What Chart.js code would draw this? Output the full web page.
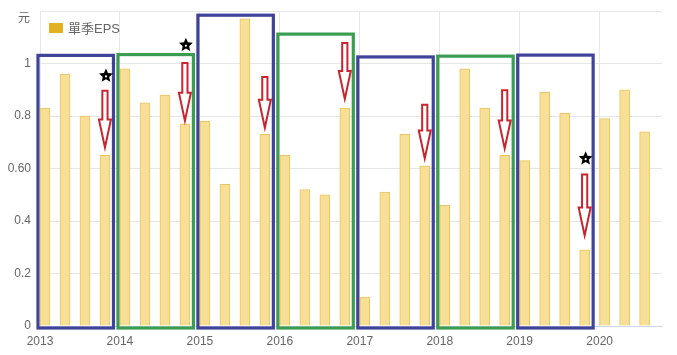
<!DOCTYPE html>
<html>
<head>
<meta charset="utf-8">
<script src="https://cdn.jsdelivr.net/npm/chart.js@4/dist/chart.umd.min.js"></script>
<style>
html,body{margin:0;padding:0;background:#fff;}
#c{display:block;}
</style>
</head>
<body>
<canvas id="c" width="677" height="355"></canvas>
<script>
// ---- data ----
const quarters = [
  '2013Q1','2013Q2','2013Q3','2013Q4',
  '2014Q1','2014Q2','2014Q3','2014Q4',
  '2015Q1','2015Q2','2015Q3','2015Q4',
  '2016Q1','2016Q2','2016Q3','2016Q4',
  '2017Q1','2017Q2','2017Q3','2017Q4',
  '2018Q1','2018Q2','2018Q3','2018Q4',
  '2019Q1','2019Q2','2019Q3','2019Q4',
  '2020Q1','2020Q2','2020Q3'
];
const eps = [
  0.83, 0.96, 0.80, 0.65,
  0.98, 0.85, 0.88, 0.77,
  0.78, 0.54, 1.17, 0.73,
  0.65, 0.52, 0.50, 0.83,
  0.11, 0.51, 0.73, 0.61,
  0.46, 0.98, 0.83, 0.65,
  0.63, 0.89, 0.81, 0.29,
  0.79, 0.90, 0.74
];
const seriesName = '單季EPS';
const unitLabel = '元';
const yearTicks = [2013, 2014, 2015, 2016, 2017, 2018, 2019, 2020];
const yTickLabels = ['0', '0.2', '0.4', '0.60', '0.8', '1', ''];

// annotation data (value units)
const boxYears  = [2013, 2014, 2015, 2016, 2017, 2018, 2019];
const boxTops   = [1.031, 1.034, 1.184, 1.112, 1.025, 1.028, 1.032];
const arrowTops = [0.896, 1.002, 0.949, 1.078, 0.843, 0.898, 0.577];
const arrowTips = [0.680, 0.782, 0.755, 0.865, 0.638, 0.676, 0.345];
const starYears  = [2013, 2014, 2019];
const starLevels = [0.953, 1.070, 0.638];

// ---- helpers ----
const BAR_SHIFT = 1 / 16;
function quarterPos(label) {
  const y = +label.slice(0, 4), q = +label.slice(5);
  return y + (q - 1) / 4;
}

const annot = {
  id: 'annot',
  afterDatasetsDraw(chart) {
    const ctx = chart.ctx, xs = chart.scales.x, ys = chart.scales.y;
    ctx.save();
    // boxes
    boxYears.forEach((yr, i) => {
      const l = xs.getPixelForValue(yr) - 2;
      const r = xs.getPixelForValue(yr + 1) - 6.5;
      const t = ys.getPixelForValue(boxTops[i]);
      const b = ys.getPixelForValue(0) + 2;
      ctx.strokeStyle = i % 2 === 0 ? '#3f4399' : '#3a9d52';
      ctx.lineWidth = 3.2;
      ctx.strokeRect(l, t, r - l, b - t);
    });
    // arrows
    boxYears.forEach((yr, i) => {
      const cx = xs.getPixelForValue(yr + 0.75 + BAR_SHIFT);
      const top = ys.getPixelForValue(arrowTops[i]);
      const tip = ys.getPixelForValue(arrowTips[i]);
      const hl = 28, sw = 2.6, hw = 6;
      ctx.beginPath();
      ctx.moveTo(cx - sw, top);
      ctx.lineTo(cx + sw, top);
      ctx.lineTo(cx + sw, tip - hl);
      ctx.lineTo(cx + hw, tip - hl);
      ctx.lineTo(cx, tip);
      ctx.lineTo(cx - hw, tip - hl);
      ctx.lineTo(cx - sw, tip - hl);
      ctx.closePath();
      ctx.fillStyle = '#ffffff';
      ctx.fill();
      ctx.strokeStyle = '#c9252f';
      ctx.lineWidth = 2;
      ctx.lineJoin = 'miter';
      ctx.stroke();
    });
    // stars
    starYears.forEach((yr, i) => {
      const cx = xs.getPixelForValue(yr + 0.75 + BAR_SHIFT) + 1;
      const cy = ys.getPixelForValue(starLevels[i]);
      const R = 7.3, r = 3.4;
      ctx.beginPath();
      for (let k = 0; k < 10; k++) {
        const a = -Math.PI / 2 + k * Math.PI / 5;
        const rad = k % 2 === 0 ? R : r;
        const px = cx + rad * Math.cos(a), py = cy + rad * Math.sin(a);
        if (k === 0) ctx.moveTo(px, py); else ctx.lineTo(px, py);
      }
      ctx.closePath();
      ctx.fillStyle = '#000';
      ctx.fill();
      ctx.beginPath();
      ctx.arc(cx, cy + 0.6, 1.1, 0, Math.PI * 2);
      ctx.fillStyle = '#fff';
      ctx.fill();
    });
    ctx.restore();
  },
  afterDraw(chart) {
    const ctx = chart.ctx, ca = chart.chartArea;
    ctx.save();
    // legend
    ctx.fillStyle = '#e3b11f';
    ctx.fillRect(ca.left + 9, ca.top + 12, 14, 10);
    ctx.fillStyle = '#666';
    ctx.font = '13px "Liberation Sans", "Noto Sans CJK TC", sans-serif';
    ctx.textBaseline = 'middle';
    ctx.textAlign = 'left';
    ctx.fillText(seriesName, ca.left + 28, ca.top + 18);
    // unit label
    ctx.font = '12px "Liberation Sans", "Noto Sans CJK TC", sans-serif';
    ctx.textAlign = 'center';
    ctx.fillText(unitLabel, 24, ca.top + 8);
    ctx.restore();
  }
};

new Chart(document.getElementById('c'), {
  type: 'bar',
  data: {
    datasets: [{
      label: seriesName,
      data: quarters.map((q, i) => ({ x: quarterPos(q) + BAR_SHIFT, y: eps[i] })),
      backgroundColor: '#f8df97',
      borderColor: '#e8c463',
      borderWidth: 1,
      barThickness: 10
    }]
  },
  options: {
    responsive: false,
    animation: false,
    devicePixelRatio: 1,
    layout: { padding: { left: 0, right: 15, top: 11, bottom: 0 } },
    plugins: { legend: { display: false }, tooltip: { enabled: false } },
    scales: {
      x: {
        type: 'linear',
        min: 2013,
        max: 2020.78,
        offset: false,
        grid: { color: '#e6e6e6', drawTicks: false, offset: false },
        border: { color: '#ccd6eb' },
        ticks: {
          stepSize: 1,
          padding: 8,
          color: '#666',
          font: { family: '"Liberation Sans", sans-serif', size: 12 },
          callback: v => String(v),
          maxRotation: 0,
          autoSkip: false
        },
        afterBuildTicks: s => { s.ticks = yearTicks.map(v => ({ value: v })); },
        afterFit: s => { s.height = 29; }
      },
      y: {
        min: 0,
        max: 1.2,
        grid: { color: '#e6e6e6', drawTicks: false },
        border: { display: false },
        ticks: {
          stepSize: 0.2,
          padding: 9,
          color: '#666',
          font: { family: '"Liberation Sans", sans-serif', size: 12 },
          callback: (v, i) => yTickLabels[i]
        },
        afterFit: s => { s.width = 40; s.paddingTop = 0; s.paddingBottom = 0; }
      }
    }
  },
  plugins: [annot]
});
</script>
</body>
</html>
